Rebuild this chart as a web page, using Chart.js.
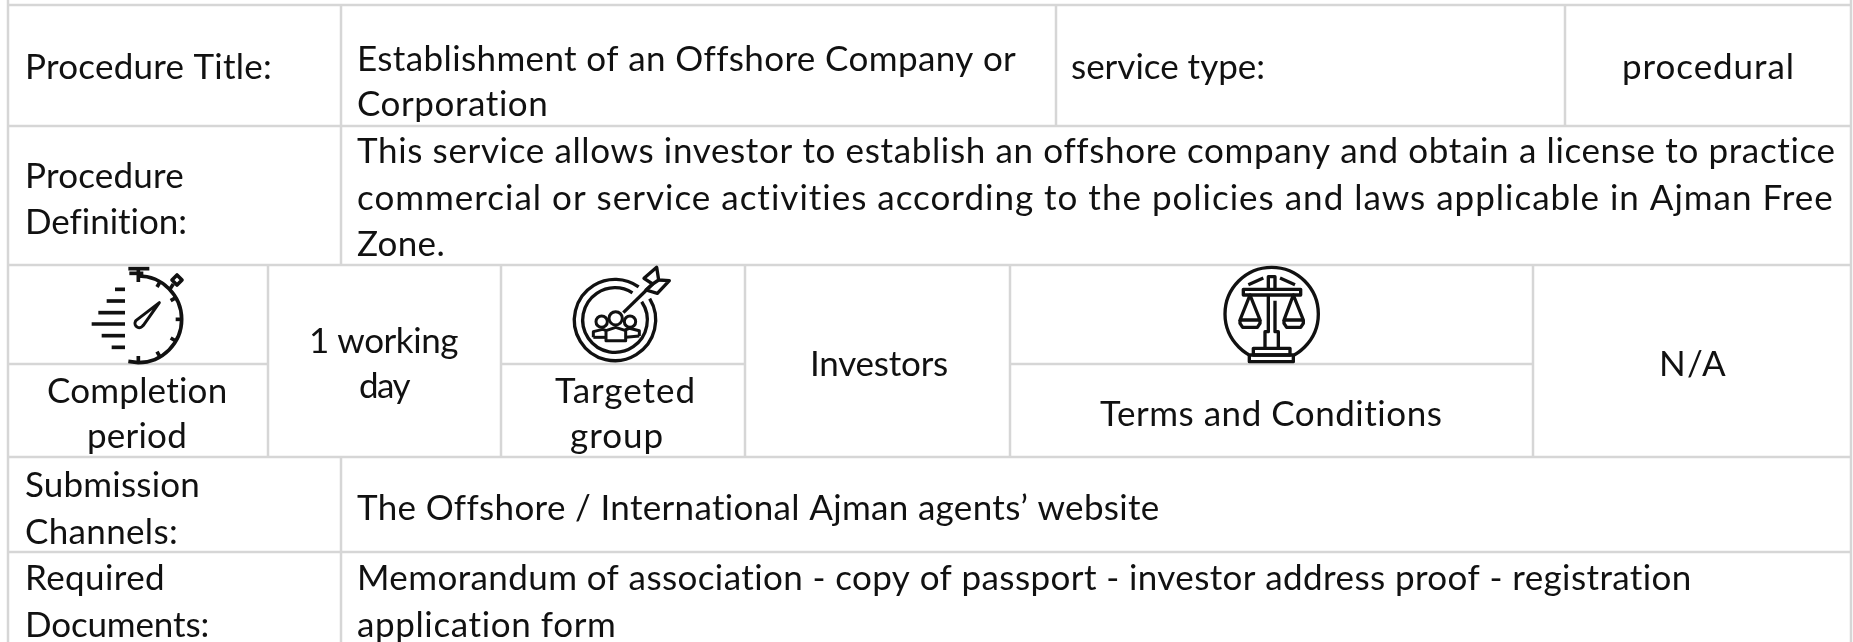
<!DOCTYPE html>
<html>
<head>
<meta charset="utf-8">
<title>Procedure card</title>
<script src="https://cdn.jsdelivr.net/npm/chart.js@4"></script>
<style>
  html, body { margin: 0; padding: 0; background: #fff; overflow: hidden; }
  #card { display: block; }
</style>
</head>
<body>
<canvas id="card" width="1853" height="642"></canvas>
<script>
// text of the table, one entry per printed line
const cellLines = [
  'Procedure Title:',
  'Establishment of an Offshore Company or',
  'Corporation',
  'service type:',
  'procedural',
  'Procedure',
  'Definition:',
  'This service allows investor to establish an offshore company and obtain a license to practice',
  'commercial or service activities according to the policies and laws applicable in Ajman Free',
  'Zone.',
  '1 working',
  'day',
  'Completion',
  'period',
  'Targeted',
  'group',
  'Investors',
  'Terms and Conditions',
  'N/A',
  'Submission',
  'Channels:',
  'The Offshore / International Ajman agents\u2019 website',
  'Required',
  'Documents:',
  'Memorandum of association - copy of passport - investor address proof - registration',
  'application form'
];

// where each line sits: left edge, baseline, printed width (page units)
const lineLeft = [25, 357, 357, 1071, 1622, 25, 25, 357, 357, 357, 309, 359, 47, 87, 555, 570, 810, 1100, 1659, 25, 25, 357, 25, 25, 357, 357];
const lineBase = [79, 71, 116, 79, 79, 188, 234, 163, 210, 256, 353, 398, 403, 448, 403, 448, 376, 426, 376, 497, 544, 520, 590, 637, 590, 637];
const lineWidth = [247, 658, 192, 194, 173, 159, 162, 1478, 1478, 88, 149, 50, 181, 100, 141, 94, 138, 343, 68, 175, 153, 802, 140, 184, 1336, 260];

// table rules: [y, x from, x to]
const rowRules = [
  [5, 8, 1851], [126, 8, 1851], [265, 8, 1851], [457, 8, 1851], [552, 8, 1851],
  [364, 8, 268], [364, 501, 745], [364, 1010, 1533]
];
// table rules: [x, y from, y to]
const columnRules = [
  [8, 0, 642], [1851, 0, 642],
  [341, 5, 265], [341, 457, 642],
  [1056, 5, 126], [1565, 5, 126],
  [268, 265, 457], [501, 265, 457], [745, 265, 457], [1010, 265, 457], [1533, 265, 457]
];

const ruleColor = '#d6d6d6';
const textFont = '35px Lato';

const ruleSets = rowRules.map(r => [{x: r[1], y: r[0]}, {x: r[2], y: r[0]}])
  .concat(columnRules.map(r => [{x: r[0], y: r[1]}, {x: r[0], y: r[2]}]))
  .map(points => ({
    data: points, showLine: true, borderColor: ruleColor, borderWidth: 2.5,
    pointRadius: 0, fill: false
  }));

const lineAnchors = cellLines.map((t, i) => ({x: lineLeft[i], y: lineBase[i]}));

// draws each line of text at its point, spaced out to the printed width
const textPlugin = {
  id: 'cellText',
  afterDatasetsDraw(chart) {
    const ctx = chart.ctx;
    const points = chart.getDatasetMeta(chart.data.datasets.length - 1).data;
    ctx.save();
    ctx.fillStyle = '#111';
    ctx.font = textFont;
    ctx.textBaseline = 'alphabetic';
    cellLines.forEach((line, i) => {
      ctx.letterSpacing = '0px';
      const natural = ctx.measureText(line).width;
      ctx.letterSpacing = ((lineWidth[i] - natural) / line.length) + 'px';
      ctx.fillText(line, points[i].x, points[i].y);
    });
    ctx.restore();
  }
};

function strokePath(ctx, pts, close) {
  ctx.beginPath();
  pts.forEach((p, i) => i ? ctx.lineTo(p[0], p[1]) : ctx.moveTo(p[0], p[1]));
  if (close) ctx.closePath();
  ctx.stroke();
}

function drawWatch(ctx) {
  // coordinates in 1/3 px of a crop starting at the icon's corner
  ctx.lineWidth = 11;
  ctx.beginPath();
  ctx.arc(175, 178, 130, -Math.PI / 2, Math.PI / 2);
  ctx.lineTo(145, 304);
  ctx.stroke();
  for (let a = -60; a <= 60; a += 30) {
    const r = a * Math.PI / 180;
    strokePath(ctx, [[175 + 130 * Math.cos(r), 178 + 130 * Math.sin(r)], [175 + 112 * Math.cos(r), 178 + 112 * Math.sin(r)]]);
  }
  strokePath(ctx, [[175, 308], [175, 288]]);
  strokePath(ctx, [[175, 66], [175, 30]]);
  strokePath(ctx, [[145, 26], [208, 26]]);
  strokePath(ctx, [[148, 40], [190, 40]]);
  strokePath(ctx, [[268, 90], [280, 72]]);
  strokePath(ctx, [[291, 45], [306, 60], [291, 75], [276, 60]], true);
  [[105, 135, 88], [80, 135, 123], [55, 135, 158], [35, 135, 192], [65, 135, 227], [95, 135, 262]]
    .forEach(d => strokePath(ctx, [[d[0], d[2]], [d[1], d[2]]]));
  ctx.lineWidth = 9;
  ctx.beginPath();
  ctx.moveTo(238, 128);
  ctx.lineTo(190, 196);
  ctx.arc(178, 190, 13, 0.45, 3.9);
  ctx.closePath();
  ctx.stroke();
}

function drawTarget(ctx) {
  ctx.lineWidth = 10;
  ctx.beginPath();
  ctx.arc(165, 180, 122, -0.55, -0.95 + Math.PI * 2);
  ctx.stroke();
  ctx.beginPath();
  ctx.arc(165, 180, 97, -0.6, -1.0 + Math.PI * 2);
  ctx.stroke();
  strokePath(ctx, [[190, 158], [278, 72]]);
  strokePath(ctx, [[278, 72], [252, 55], [290, 22], [296, 60], [328, 62], [292, 100], [258, 90]], true);
  strokePath(ctx, [[278, 72], [296, 60]]);
  ctx.lineWidth = 9;
  [[125, 185, 17], [167, 175, 20], [210, 185, 17]].forEach(h => {
    ctx.beginPath();
    ctx.arc(h[0], h[1], h[2], 0, Math.PI * 2);
    ctx.stroke();
  });
  strokePath(ctx, [[100, 232], [100, 215], [128, 208], [140, 212]]);
  strokePath(ctx, [[100, 232], [138, 232]]);
  strokePath(ctx, [[238, 228], [238, 212], [208, 205], [195, 210]]);
  strokePath(ctx, [[197, 232], [238, 228]]);
  strokePath(ctx, [[138, 242], [138, 212], [167, 202], [197, 212], [197, 242]], true);
}

function drawScales(ctx) {
  ctx.lineWidth = 10;
  ctx.beginPath();
  ctx.arc(185, 162, 140, -Math.PI, Math.PI);
  ctx.stroke();
  ctx.fillStyle = '#fff';
  ctx.fillRect(118, 268, 132, 40);
  strokePath(ctx, [[100, 88], [272, 88], [272, 105], [100, 105]], true);
  strokePath(ctx, [[175, 88], [175, 50], [195, 50], [195, 88]]);
  strokePath(ctx, [[175, 105], [175, 215], [165, 215], [165, 265]]);
  strokePath(ctx, [[195, 122], [195, 215], [205, 215], [205, 265]]);
  strokePath(ctx, [[130, 265], [240, 265], [240, 285], [130, 285]], true);
  strokePath(ctx, [[118, 285], [250, 285], [250, 305], [118, 305]], true);
  strokePath(ctx, [[115, 74], [160, 54]]);
  strokePath(ctx, [[255, 74], [210, 54]]);
  [[120, 90, 150], [250, 222, 280]].forEach(p => {
    strokePath(ctx, [[p[0], 105], [p[1], 180], [p[2], 180]], true);
    strokePath(ctx, [[p[1], 180], [p[1], 190], [p[1] + 8, 202], [p[2] - 8, 202], [p[2], 190], [p[2], 180]]);
  });
}

// icons are line art, placed by the corner of their crop
const iconCorners = [[80, 260, drawWatch], [560, 260, drawTarget], [1210, 260, drawScales]];

const iconPlugin = {
  id: 'cellIcons',
  afterDatasetsDraw(chart) {
    const ctx = chart.ctx;
    iconCorners.forEach(ic => {
      ctx.save();
      ctx.translate(chart.scales.x.getPixelForValue(ic[0]), chart.scales.y.getPixelForValue(ic[1]));
      ctx.scale(1 / 3, 1 / 3);
      ctx.strokeStyle = '#111';
      ctx.lineJoin = 'round';
      ic[2](ctx);
      ctx.restore();
    });
  }
};

new Chart(document.getElementById('card').getContext('2d'), {
  type: 'scatter',
  data: {
    datasets: ruleSets.concat([{data: lineAnchors, pointRadius: 0}])
  },
  options: {
    responsive: false,
    animation: false,
    layout: {padding: 0},
    plugins: {legend: {display: false}, tooltip: {enabled: false}},
    scales: {
      x: {type: 'linear', min: 0, max: 1853, display: false},
      y: {type: 'linear', min: 0, max: 642, reverse: true, display: false}
    }
  },
  plugins: [textPlugin, iconPlugin]
});
</script>
</body>
</html>
